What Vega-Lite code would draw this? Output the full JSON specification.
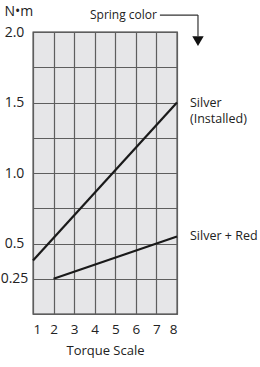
{
  "$schema": "https://vega.github.io/schema/vega-lite/v6.json",
  "autosize": "none",
  "width": 144,
  "height": 282,
  "padding": {"left": 33, "top": 32, "right": 83, "bottom": 53},
  "background": "white",
  "config": {
    "font": "Open Sans",
    "view": {"fill": "#e6e6e8", "stroke": "#333", "strokeWidth": 1.3},
    "axis": {"labelFont": "Open Sans", "titleFont": "Open Sans", "labelColor": "#222", "titleColor": "#222", "labelFontSize": 13.5, "titleFontSize": 13, "titleFontWeight": "normal", "gridColor": "#5e5e5e", "gridOpacity": 1, "gridWidth": 1.2, "domain": false, "ticks": false, "labelOverlap": false}
  },
  "datasets": {
    "lines": [
      {"scale": 1, "torque": 0.38, "spring": "Silver"},
      {"scale": 8, "torque": 1.5, "spring": "Silver"},
      {"scale": 2, "torque": 0.25, "spring": "Silver + Red"},
      {"scale": 8, "torque": 0.55, "spring": "Silver + Red"}
    ],
    "labels": [
      {"scale": 8, "torque": 1.5, "text": ["Silver", "(Installed)"]},
      {"scale": 8, "torque": 0.55, "text": ["Silver + Red"]}
    ],
    "arrow": [
      {"scale": 7.17, "scale2": 9.02, "torque": 2.12, "torque2": 2.12},
      {"scale": 9.02, "scale2": 9.02, "torque": 2.12, "torque2": 1.97}
    ]
  },
  "encoding": {
    "x": {"field": "scale", "type": "quantitative", "scale": {"domain": [1, 8], "nice": false}, "axis": {"values": [1, 2, 3, 4, 5, 6, 7, 8], "title": "Torque Scale", "labelPadding": 8, "titlePadding": 9}},
    "y": {"field": "torque", "type": "quantitative", "scale": {"domain": [0, 2], "nice": false}, "axis": {"values": [0, 0.25, 0.5, 0.75, 1, 1.25, 1.5, 1.75, 2], "labelExpr": "datum.value == 0.25 ? '0.25' : (datum.value == 0.5 || datum.value == 1 || datum.value == 1.5 || datum.value == 2) ? format(datum.value, '.1f') : ''", "labelAlign": "center", "labelPadding": 19, "labelBaseline": "middle", "labelFontSize": 14, "title": "N•m", "titleAngle": 0, "titleAlign": "left", "titleBaseline": "middle", "titleX": -29, "titleY": -21, "titleFontSize": 14}}
  },
  "layer": [
    {
      "data": {"name": "lines"},
      "mark": {"type": "line", "color": "#1a1a1a", "strokeWidth": 2.2},
      "encoding": {
        "detail": {"field": "spring"}
      }
    },
    {
      "data": {"name": "labels"},
      "mark": {"type": "text", "align": "left", "baseline": "middle", "dx": 13, "fontSize": 12.5, "color": "#222", "lineHeight": 16},
      "encoding": {
        "text": {"field": "text"}
      }
    },
    {
      "data": {"values": [{"scale": 7.17, "torque": 2.12, "text": "Spring color"}]},
      "mark": {"type": "text", "align": "right", "baseline": "middle", "dx": -3, "fontSize": 12, "color": "#222"},
      "encoding": {
        "text": {"field": "text"}
      }
    },
    {
      "data": {"name": "arrow"},
      "mark": {"type": "rule", "color": "#333", "strokeWidth": 1.2},
      "encoding": {
        "x2": {"field": "scale2"},
        "y2": {"field": "torque2"}
      }
    },
    {
      "data": {"values": [{"scale": 9.02, "torque": 1.935}]},
      "mark": {"type": "point", "shape": "triangle-down", "filled": true, "color": "#111", "opacity": 1, "size": 130},
      "encoding": {}
    }
  ]
}
